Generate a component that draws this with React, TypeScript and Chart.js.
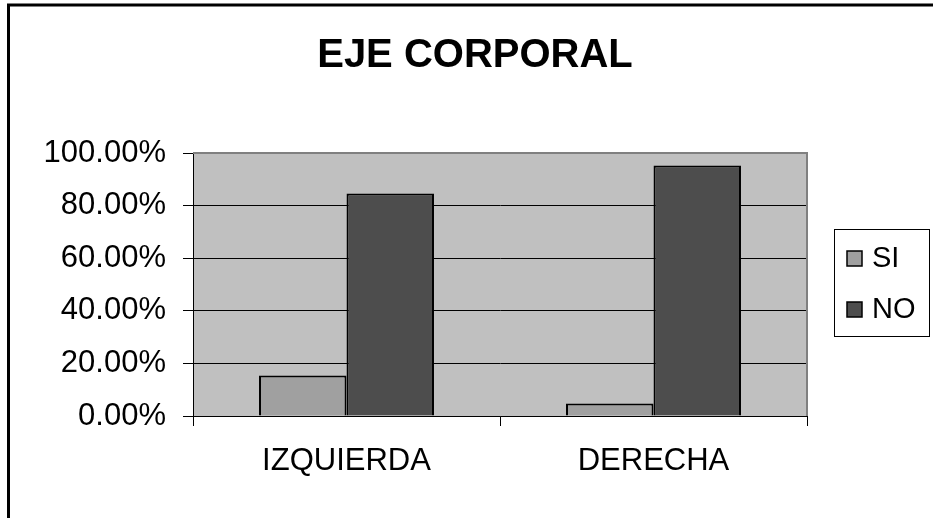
import React, { useEffect, useRef } from "react";
import { Chart, registerables } from "chart.js";

Chart.register(...registerables);

const TITLE = "EJE CORPORAL";
const categories = ["IZQUIERDA", "DERECHA"];
const seriesNames = ["SI", "NO"];
const siValues = [15.4, 4.8];
const noValues = [84.6, 95.2];
const seriesColors = ["#A0A0A0", "#4D4D4D"];
const yTicks = [0, 20, 40, 60, 80, 100];

const FONT = "'Liberation Sans', Arial, sans-serif";

const decorPlugin = {
  id: "decor",
  beforeDraw(chart: any) {
    const { ctx, chartArea } = chart;
    ctx.save();
    ctx.fillStyle = "#FFFFFF";
    ctx.fillRect(0, 0, chart.width, chart.height);
    ctx.fillStyle = "#C0C0C0";
    ctx.fillRect(chartArea.left, chartArea.top, chartArea.right - chartArea.left, chartArea.bottom - chartArea.top);
    ctx.restore();
  },
  afterDraw(chart: any) {
    const { ctx, chartArea } = chart;
    ctx.save();
    // plot area top/right border
    ctx.strokeStyle = "#808080";
    ctx.lineWidth = 2;
    ctx.beginPath();
    ctx.moveTo(chartArea.left, chartArea.top);
    ctx.lineTo(chartArea.right, chartArea.top);
    ctx.lineTo(chartArea.right, chartArea.bottom);
    ctx.stroke();

    // outer border
    ctx.strokeStyle = "#000000";
    ctx.lineWidth = 3;
    ctx.strokeRect(8.5, 5, chart.width + 20, chart.height + 20);

    // title
    ctx.fillStyle = "#000000";
    ctx.font = `bold 40px ${FONT}`;
    ctx.textAlign = "center";
    ctx.textBaseline = "alphabetic";
    ctx.fillText(TITLE, 475, 67);

    // legend
    const lx = 834.5, ly = 229.5, lw = 95, lh = 107;
    ctx.fillStyle = "#FFFFFF";
    ctx.fillRect(lx, ly, lw, lh);
    ctx.strokeStyle = "#000000";
    ctx.lineWidth = 1;
    ctx.strokeRect(lx, ly, lw, lh);
    const rows = [251, 302];
    seriesNames.forEach((name, i) => {
      const y = rows[i];
      ctx.fillStyle = seriesColors[i];
      ctx.fillRect(847, y, 15, 15);
      ctx.lineWidth = 1.5;
      ctx.strokeStyle = "#000000";
      ctx.strokeRect(847, y, 15, 15);
      ctx.fillStyle = "#000000";
      ctx.font = `29px ${FONT}`;
      ctx.textAlign = "left";
      ctx.textBaseline = "alphabetic";
      ctx.fillText(name, 872, y + 16);
    });
    ctx.restore();
  },
};

export default function App() {
  const ref = useRef<HTMLCanvasElement | null>(null);
  useEffect(() => {
    document.body.style.margin = "0";
    document.body.style.overflow = "hidden";
    const canvas = ref.current!;
    const chart = new Chart(canvas, {
      type: "bar",
      data: {
        labels: categories,
        datasets: [
          {
            label: seriesNames[0],
            data: siValues,
            backgroundColor: seriesColors[0],
            borderColor: "#000000",
            borderWidth: 2,
          },
          {
            label: seriesNames[1],
            data: noValues,
            backgroundColor: seriesColors[1],
            borderColor: "#000000",
            borderWidth: 2,
          },
        ],
      },
      options: {
        responsive: false,
        animation: false,
        devicePixelRatio: 1,
        layout: { padding: { left: 0, top: 153, right: 126, bottom: 0 } },
        datasets: { bar: { categoryPercentage: 0.57, barPercentage: 1 } },
        plugins: {
          legend: { display: false },
          title: { display: false },
          tooltip: { enabled: false },
        },
        scales: {
          x: {
            grid: {
              offset: true,
              drawOnChartArea: false,
              drawTicks: true,
              tickLength: 10,
              color: "#000000",
              lineWidth: 1,
            },
            border: { color: "#000000", width: 1 },
            ticks: {
              color: "#000000",
              font: { family: FONT, size: 31 },
              padding: 17,
              maxRotation: 0,
            },
            afterFit(scale: any) {
              scale.height = 102;
            },
          },
          y: {
            min: 0,
            max: 100,
            afterBuildTicks(scale: any) {
              scale.ticks = yTicks.map((v) => ({ value: v }));
            },
            grid: {
              color: (c: any) => (c.tick && c.tick.value === 100 ? "#808080" : "#000000"),
              lineWidth: 1,
              tickLength: 10,
              tickColor: "#000000",
            },
            border: { color: "#000000", width: 1 },
            ticks: {
              color: "#000000",
              font: { family: FONT, size: 31 },
              padding: 17,
              callback: (v: any) => Number(v).toFixed(2) + "%",
            },
            afterFit(scale: any) {
              scale.width = 193;
            },
          },
        },
      },
      plugins: [decorPlugin],
    });
    return () => chart.destroy();
  }, []);
  return (
    <canvas
      ref={ref}
      width={933}
      height={518}
      style={{ position: "fixed", left: 0, top: 0, width: 933, height: 518, display: "block" }}
    />
  );
}
